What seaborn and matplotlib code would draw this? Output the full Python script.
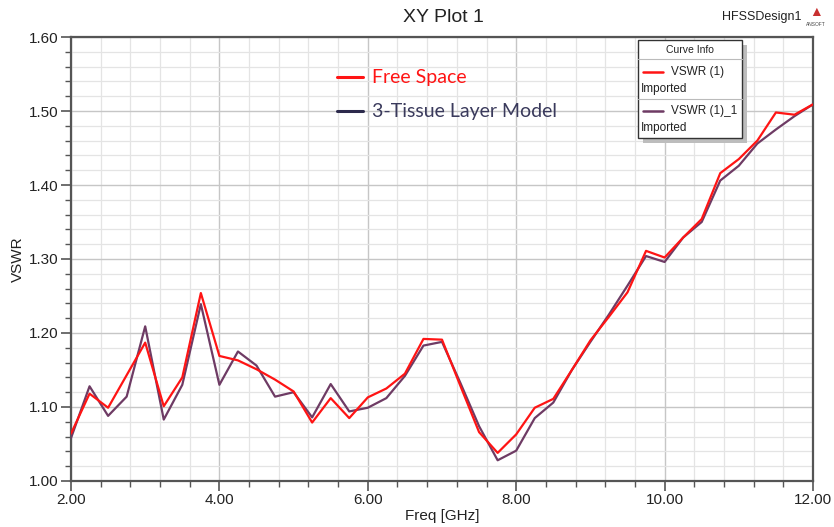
import numpy as np
import pandas as pd
import matplotlib
matplotlib.use("Agg")
import matplotlib.pyplot as plt
from matplotlib.ticker import MultipleLocator, FormatStrFormatter
from matplotlib.patches import Rectangle
import seaborn as sns

freq = [2.00, 2.25, 2.50, 2.75, 3.00, 3.25, 3.50, 3.75, 4.00, 4.25, 4.50, 4.75,
        5.00, 5.25, 5.50, 5.75, 6.00, 6.25, 6.50, 6.75, 7.00, 7.25, 7.50, 7.75,
        8.00, 8.25, 8.50, 8.75, 9.00, 9.25, 9.50, 9.75, 10.00, 10.25, 10.50, 10.75,
        11.00, 11.25, 11.50, 11.75, 12.00]
free_space = [1.064, 1.118, 1.099, 1.143, 1.187, 1.101, 1.140, 1.254, 1.169, 1.163, 1.151, 1.137,
              1.121, 1.079, 1.112, 1.085, 1.113, 1.125, 1.145, 1.192, 1.191, 1.128, 1.066, 1.038,
              1.063, 1.099, 1.111, 1.150, 1.190, 1.222, 1.255, 1.311, 1.302, 1.329, 1.354, 1.416,
              1.435, 1.460, 1.498, 1.495, 1.509]
tissue = [1.058, 1.128, 1.088, 1.114, 1.209, 1.083, 1.130, 1.239, 1.130, 1.175, 1.156, 1.114,
          1.120, 1.086, 1.131, 1.094, 1.099, 1.112, 1.142, 1.183, 1.188, 1.132, 1.074, 1.028,
          1.041, 1.085, 1.106, 1.150, 1.188, 1.225, 1.264, 1.304, 1.296, 1.329, 1.350, 1.406,
          1.426, 1.456, 1.475, 1.493, 1.509]
series_names = ["VSWR (1)", "VSWR (1)_1"]
x_ticks = [2, 4, 6, 8, 10, 12]
y_ticks = [1.00, 1.10, 1.20, 1.30, 1.40, 1.50, 1.60]

RED = "#ff1414"
PURPLE = "#6e3b64"
NAVY = "#2c2a4c"

df = pd.DataFrame({
    "Freq": freq * 2,
    "VSWR": free_space + tissue,
    "Curve": [series_names[0]] * len(freq) + [series_names[1]] * len(freq),
})

sns.set_style("white")
plt.rcParams["font.family"] = ["Liberation Sans", "DejaVu Sans"]

W, H = 834, 527
fig = plt.figure(figsize=(W / 100, H / 100), dpi=100)
ax = fig.add_axes([71 / W, 1 - 481 / H, (813 - 71) / W, (481 - 37) / H])

sns.lineplot(data=df, x="Freq", y="VSWR", hue="Curve",
             palette={series_names[0]: RED, series_names[1]: PURPLE},
             hue_order=[series_names[1], series_names[0]],
             linewidth=1.6, legend=False, ax=ax, zorder=3)

ax.set_xlim(2, 12)
ax.set_ylim(1.0, 1.6)
ax.set_xticks(x_ticks)
ax.set_yticks(y_ticks)
ax.xaxis.set_major_formatter(FormatStrFormatter("%.2f"))
ax.yaxis.set_major_formatter(FormatStrFormatter("%.2f"))
ax.xaxis.set_minor_locator(MultipleLocator(0.4))
ax.yaxis.set_minor_locator(MultipleLocator(0.02))
ax.grid(which="major", color="#c6c6c6", linewidth=1.0, zorder=0)
ax.grid(which="minor", color="#e4e4e4", linewidth=0.9, zorder=0)
ax.set_axisbelow(True)
ax.tick_params(which="major", direction="out", length=7, width=1.2, color="#555555",
               labelsize=11, labelcolor="#222222", pad=2, left=True, bottom=True)
ax.tick_params(which="minor", direction="out", length=4, width=1.0, color="#555555",
               left=True, bottom=True)
for s in ax.spines.values():
    s.set_color("#555555")
    s.set_linewidth(1.6)
ax.set_xlabel("Freq [GHz]", fontsize=11, color="#222222", labelpad=1)
ax.set_ylabel("VSWR", fontsize=11, color="#222222", labelpad=3)

# overlay for annotations in pixel coordinates
ov = fig.add_axes([0, 0, 1, 1], zorder=10)
ov.set_xlim(0, W)
ov.set_ylim(H, 0)
ov.axis("off")

ov.text(443, 17, "XY Plot 1", fontsize=14, ha="center", va="center", color="#222222")
ov.text(762, 17, "HFSSDesign1", fontsize=9, ha="center", va="center", color="#222222")
ov.text(816, 12, "▲", fontsize=10, ha="center", va="center", color="#c83030")
ov.text(816, 24, "ANSOFT", fontsize=3.5, ha="center", va="center", color="#444444")

# in-plot annotation
ov.plot([337, 363], [77, 77], color=RED, linewidth=2.2)
ov.text(372, 77, "Free Space", fontsize=14, family=["Lato", "DejaVu Sans"],
        color=RED, ha="left", va="center")
ov.plot([337, 363], [111, 111], color=NAVY, linewidth=2.2)
ov.text(372, 111, "3-Tissue Layer Model", fontsize=14, family=["Lato", "DejaVu Sans"],
        color="#3a3a5c", ha="left", va="center")

# Curve Info box
bx0, by0, bx1, by1 = 638, 40, 742, 138
ov.add_patch(Rectangle((bx0 + 5, by0 + 5), bx1 - bx0, by1 - by0, facecolor="#bdbdbd",
                       edgecolor="none", zorder=1))
ov.add_patch(Rectangle((bx0, by0), bx1 - bx0, by1 - by0, facecolor="white",
                       edgecolor="#333333", linewidth=1.0, zorder=2))
ov.plot([bx0, bx1], [59, 59], color="#bbbbbb", linewidth=0.8, zorder=3)
ov.plot([bx0, bx1], [99, 99], color="#bbbbbb", linewidth=0.8, zorder=3)
ov.text((bx0 + bx1) / 2, 50, "Curve Info", fontsize=7.5, ha="center", va="center",
        color="#222222", zorder=4)
ov.plot([643, 663], [72, 72], color=RED, linewidth=1.8, zorder=4)
ov.text(671, 72, series_names[0], fontsize=8.5, ha="left", va="center", color="#222222", zorder=4)
ov.text(641, 89, "Imported", fontsize=8.5, ha="left", va="center", color="#222222", zorder=4)
ov.plot([643, 663], [111, 111], color=PURPLE, linewidth=1.8, zorder=4)
ov.text(671, 111, series_names[1], fontsize=8.5, ha="left", va="center", color="#222222", zorder=4)
ov.text(641, 128, "Imported", fontsize=8.5, ha="left", va="center", color="#222222", zorder=4)

fig.savefig("out.png", dpi=100)
